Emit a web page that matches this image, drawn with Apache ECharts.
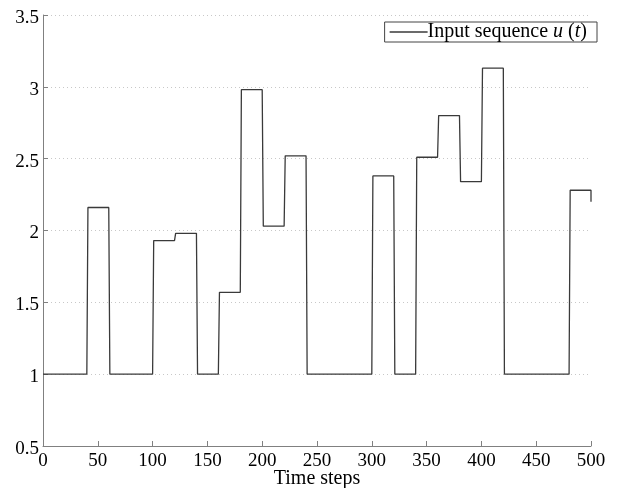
<!DOCTYPE html>
<html>
<head>
<meta charset="utf-8">
<script src="https://cdn.jsdelivr.net/npm/echarts@6/dist/echarts.min.js"></script>
<style>
  html, body { margin: 0; padding: 0; background: #fff; }
  #main { width: 617px; height: 488px; }
</style>
</head>
<body>
<div id="main"></div>
<script>
// NOTE - data: the input is held constant over blocks of time steps
var segStarts = [0, 40, 60, 100, 120, 140, 160, 180, 200, 220, 240, 300, 320, 340, 360, 380, 400, 420, 480];
var segValues = [1, 2.16, 1, 1.93, 1.98, 1, 1.57, 2.98, 2.03, 2.52, 1, 2.38, 1, 2.51, 2.80, 2.34, 3.13, 1, 2.28];
var lastPoint = [500, 2.2];
var xTicks = [0, 50, 100, 150, 200, 250, 300, 350, 400, 450, 500];
var yTicks = [0.5, 1, 1.5, 2, 2.5, 3, 3.5];

// each block jumps in one step after its start and holds until the next start
var points = [];
for (var i = 0; i < segStarts.length; i++) {
  var end = i + 1 < segStarts.length ? segStarts[i + 1] : 500;
  points.push([i === 0 ? segStarts[i] : segStarts[i] + 1, segValues[i]]);
  points.push([end, segValues[i]]);
}
points.push(lastPoint);

var font = 'Liberation Serif';
var myChart = echarts.init(document.getElementById('main'));

var option = {
  animation: false,
  grid: { left: 43, right: 26, top: 15, bottom: 42, outerBoundsMode: 'none' },
  legend: {
    right: 20,
    top: 22,
    padding: [0, 10, 0, 5],
    icon: 'rect',
    itemGap: 0,
    itemWidth: 38,
    itemHeight: 1.3,
    borderColor: '#444',
    borderWidth: 1,
    backgroundColor: '#fff',
    formatter: function () {
      return '{a|Input sequence }{i|u}{a| (}{i|t}{a|)}';
    },
    textStyle: {
      fontFamily: font,
      fontSize: 20,
      color: '#000',
      padding: [0, 0, 0, -5],
      rich: {
        a: { fontFamily: font, fontSize: 20, color: '#000', lineHeight: 21 },
        i: { fontFamily: font, fontSize: 20, fontStyle: 'italic', color: '#000', lineHeight: 21 }
      }
    }
  },
  xAxis: {
    type: 'value',
    min: xTicks[0],
    max: xTicks[xTicks.length - 1],
    interval: 50,
    name: 'Time steps',
    nameLocation: 'middle',
    nameGap: 23,
    nameMoveOverlap: false,
    nameTextStyle: { fontFamily: font, fontSize: 20, color: '#000' },
    axisLine: { lineStyle: { color: '#808080', width: 1 } },
    axisTick: { inside: true, length: 5, lineStyle: { color: '#808080' } },
    axisLabel: { fontFamily: font, fontSize: 19, color: '#000', margin: 6 },
    splitLine: { show: false }
  },
  yAxis: {
    type: 'value',
    min: yTicks[0],
    max: yTicks[yTicks.length - 1],
    interval: 0.5,
    axisLine: { show: true, lineStyle: { color: '#808080', width: 1 } },
    axisTick: { show: true, inside: true, length: 5, lineStyle: { color: '#808080' } },
    axisLabel: {
      fontFamily: font, fontSize: 19, color: '#000', margin: 4,
      formatter: function (v) { return '{v|' + v + '}'; },
      rich: {
        v: { fontFamily: font, fontSize: 19, color: '#000', padding: [6, 0, 0, 0] }
      }
    },
    splitLine: { show: true, lineStyle: { color: '#c8c8c8', type: [1, 3], width: 1 } }
  },
  series: [
    {
      name: 'Input sequence u (t)',
      type: 'line',
      symbol: 'none',
      data: points,
      itemStyle: { color: '#3a3a3a' },
      lineStyle: { color: '#3a3a3a', width: 1.3 }
    }
  ]
};

myChart.setOption(option);
</script>
</body>
</html>
